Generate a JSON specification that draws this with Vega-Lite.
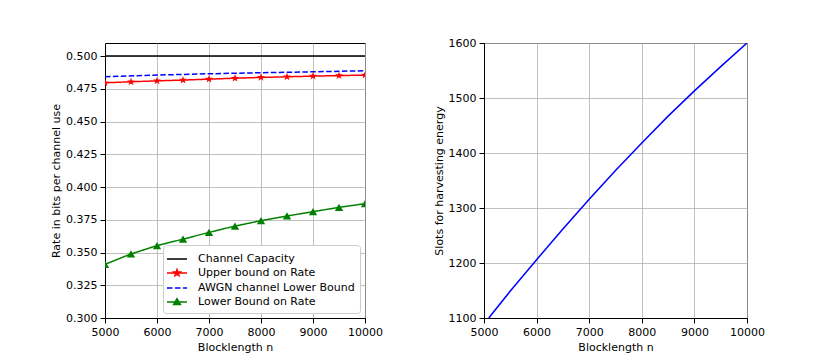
{
  "$schema": "https://vega.github.io/schema/vega-lite/v6.json",
  "padding": {"left": 50, "top": 36, "right": 5, "bottom": 5},
  "background": "white",
  "spacing": 49,
  "config": {
    "font": "DejaVu Sans",
    "view": {"stroke": "black", "strokeWidth": 1},
    "axis": {
      "grid": true, "gridColor": "#b0b0b0", "gridWidth": 0.8,
      "domainColor": "black", "tickColor": "black", "tickSize": 5,
      "labelFontSize": 11, "labelColor": "black", "labelPadding": 3,
      "titleFontSize": 11, "titleFontWeight": "normal", "titleColor": "black", "titlePadding": 4,
      "labelFlush": false, "labelOverlap": false
    }
  },
  "datasets": {
    "rates": [
      {"series": "Channel Capacity", "n": 5000, "rate": 0.5},
      {"series": "Channel Capacity", "n": 10000, "rate": 0.5},
      {"series": "Upper bound on Rate", "n": 5000, "rate": 0.4796},
      {"series": "Upper bound on Rate", "n": 5500, "rate": 0.4804},
      {"series": "Upper bound on Rate", "n": 6000, "rate": 0.4811},
      {"series": "Upper bound on Rate", "n": 6500, "rate": 0.4817},
      {"series": "Upper bound on Rate", "n": 7000, "rate": 0.4824},
      {"series": "Upper bound on Rate", "n": 7500, "rate": 0.4831},
      {"series": "Upper bound on Rate", "n": 8000, "rate": 0.4837},
      {"series": "Upper bound on Rate", "n": 8500, "rate": 0.4842},
      {"series": "Upper bound on Rate", "n": 9000, "rate": 0.4847},
      {"series": "Upper bound on Rate", "n": 9500, "rate": 0.4851},
      {"series": "Upper bound on Rate", "n": 10000, "rate": 0.4855},
      {"series": "AWGN channel Lower Bound", "n": 5000, "rate": 0.4842},
      {"series": "AWGN channel Lower Bound", "n": 6000, "rate": 0.4855},
      {"series": "AWGN channel Lower Bound", "n": 7000, "rate": 0.4865},
      {"series": "AWGN channel Lower Bound", "n": 8000, "rate": 0.4873},
      {"series": "AWGN channel Lower Bound", "n": 9000, "rate": 0.4880},
      {"series": "AWGN channel Lower Bound", "n": 10000, "rate": 0.4888},
      {"series": "Lower Bound on Rate", "n": 5000, "rate": 0.3410},
      {"series": "Lower Bound on Rate", "n": 5500, "rate": 0.3489},
      {"series": "Lower Bound on Rate", "n": 6000, "rate": 0.3553},
      {"series": "Lower Bound on Rate", "n": 6500, "rate": 0.3602},
      {"series": "Lower Bound on Rate", "n": 7000, "rate": 0.3654},
      {"series": "Lower Bound on Rate", "n": 7500, "rate": 0.3702},
      {"series": "Lower Bound on Rate", "n": 8000, "rate": 0.3743},
      {"series": "Lower Bound on Rate", "n": 8500, "rate": 0.3779},
      {"series": "Lower Bound on Rate", "n": 9000, "rate": 0.3812},
      {"series": "Lower Bound on Rate", "n": 9500, "rate": 0.3845},
      {"series": "Lower Bound on Rate", "n": 10000, "rate": 0.3873}
    ],
    "slots": [
      {"n": 5090, "slots": 1100},
      {"n": 5500, "slots": 1149},
      {"n": 6000, "slots": 1206},
      {"n": 6500, "slots": 1262},
      {"n": 7000, "slots": 1316},
      {"n": 7500, "slots": 1368},
      {"n": 8000, "slots": 1418},
      {"n": 8500, "slots": 1467},
      {"n": 9000, "slots": 1513},
      {"n": 9500, "slots": 1557},
      {"n": 10000, "slots": 1600}
    ]
  },
  "hconcat": [
    {
      "width": 260,
      "height": 275,
      "data": {"name": "rates"},
      "encoding": {
        "x": {"field": "n", "type": "quantitative", "scale": {"domain": [5000, 10000], "nice": false, "zero": false},
              "axis": {"title": "Blocklength n", "values": [5000, 6000, 7000, 8000, 9000, 10000], "format": "d", "labelOverlap": false}},
        "y": {"field": "rate", "type": "quantitative", "scale": {"domain": [0.3, 0.51], "nice": false, "zero": false},
              "axis": {"title": "Rate in bits per channel use", "values": [0.3, 0.325, 0.35, 0.375, 0.4, 0.425, 0.45, 0.475, 0.5], "format": ".3f", "labelOverlap": false}}
      },
      "layer": [
        {
          "mark": {"type": "line", "strokeWidth": 1.5, "clip": true},
          "encoding": {
            "color": {
              "field": "series", "type": "nominal",
              "scale": {"domain": ["Channel Capacity", "Upper bound on Rate", "AWGN channel Lower Bound", "Lower Bound on Rate"],
                        "range": ["black", "red", "blue", "green"]},
              "legend": {
                "title": null, "orient": "bottom-right", "offset": 5,
                "fillColor": "white", "strokeColor": "#cccccc", "cornerRadius": 3, "padding": 5,
                "labelFontSize": 11, "labelColor": "black", "labelOffset": 12,
                "symbolSize": 256, "symbolStrokeWidth": 1.5, "rowPadding": 0,
                "encode": {
                  "symbols": {
                    "update": {
                      "shape": {"signal": "datum.value === 'Upper bound on Rate' ? 'M-1.25,0H1.25M0,-0.42L0.099,-0.136L0.4,-0.13L0.16,0.052L0.247,0.34L0,0.168L-0.247,0.34L-0.16,0.052L-0.4,-0.13L-0.099,-0.136Z' : datum.value === 'Lower Bound on Rate' ? 'M-1.25,0H1.25M0,-0.42L0.42,0.3L-0.42,0.3Z' : datum.value === 'AWGN channel Lower Bound' ? 'M-1.25,0H-0.55M-0.25,0H0.45M0.75,0H1.25' : 'M-1.25,0H1.25'"},
                      "fill": {"signal": "datum.value === 'Upper bound on Rate' ? 'red' : datum.value === 'Lower Bound on Rate' ? 'green' : 'transparent'"}
                    }
                  }
                }
              }
            },
            "strokeDash": {
              "field": "series", "type": "nominal",
              "scale": {"domain": ["Channel Capacity", "Upper bound on Rate", "AWGN channel Lower Bound", "Lower Bound on Rate"],
                        "range": [[1, 0], [1, 0], [5.5, 2.4], [1, 0]]},
              "legend": null
            }
          }
        },
        {
          "transform": [{"filter": "datum.series === 'Upper bound on Rate' || datum.series === 'Lower Bound on Rate'"}],
          "mark": {"type": "point", "filled": true, "opacity": 1, "size": 70, "strokeWidth": 0, "clip": true},
          "encoding": {
            "fill": {"field": "series", "type": "nominal",
                     "scale": {"domain": ["Upper bound on Rate", "Lower Bound on Rate"], "range": ["red", "green"]},
                     "legend": null},
            "shape": {"field": "series", "type": "nominal",
                      "scale": {"domain": ["Upper bound on Rate", "Lower Bound on Rate"],
                                "range": ["M0,-1L0.235,-0.324L0.951,-0.309L0.38,0.124L0.588,0.809L0,0.4L-0.588,0.809L-0.38,0.124L-0.951,-0.309L-0.235,-0.324Z", "triangle-up"]},
                      "legend": null}
          }
        }
      ]
    },
    {
      "width": 263,
      "height": 275,
      "data": {"name": "slots"},
      "mark": {"type": "line", "color": "blue", "strokeWidth": 1.5, "clip": true},
      "encoding": {
        "x": {"field": "n", "type": "quantitative", "scale": {"domain": [5000, 10000], "nice": false, "zero": false},
              "axis": {"title": "Blocklength n", "values": [5000, 6000, 7000, 8000, 9000, 10000], "format": "d"}},
        "y": {"field": "slots", "type": "quantitative", "scale": {"domain": [1100, 1600], "nice": false, "zero": false},
              "axis": {"title": "Slots for harvesting energy", "values": [1100, 1200, 1300, 1400, 1500, 1600], "format": "d"}}
      }
    }
  ],
  "resolve": {
    "scale": {"x": "independent", "y": "independent", "color": "independent", "fill": "independent", "shape": "independent", "strokeDash": "independent"},
    "legend": {"color": "independent", "fill": "independent", "shape": "independent", "strokeDash": "independent"}
  }
}
